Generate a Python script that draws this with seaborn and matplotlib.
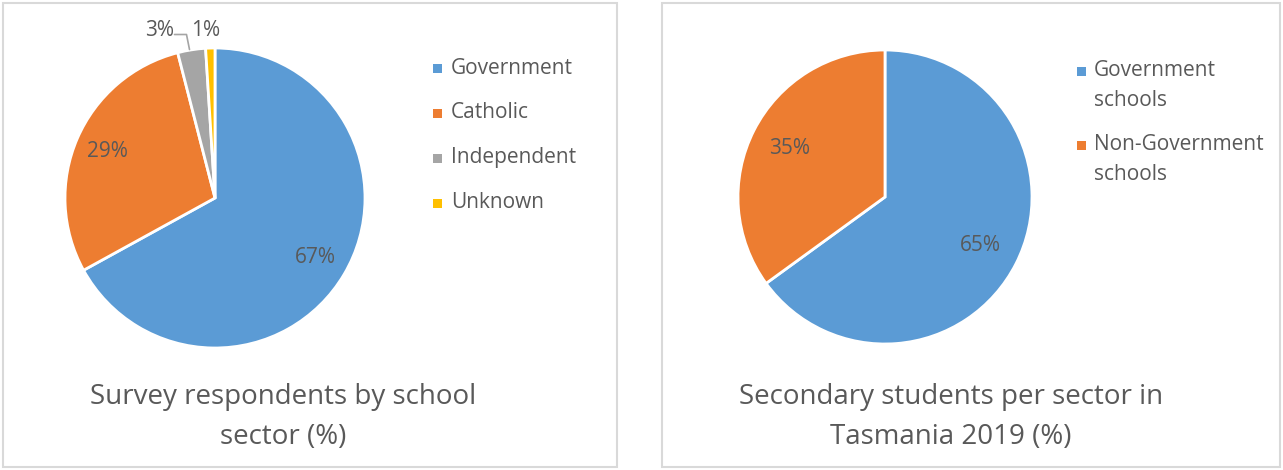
import matplotlib
matplotlib.use("Agg")
import matplotlib.pyplot as plt
from matplotlib.patches import Rectangle
import numpy as np
import seaborn as sns

# Survey respondents by school sector
sector_labels = ["Government", "Catholic", "Independent", "Unknown"]
sector_values = [67, 29, 3, 1]

# Secondary students per sector, Tasmania 2019
students_labels = ["Government\nschools", "Non-Government\nschools"]
students_values = [65, 35]

palette = ["#5B9BD5", "#ED7D31", "#A5A5A5", "#FFC000"]
text_color = "#595959"

sns.set_theme(style="white")
plt.rcParams["font.family"] = ["Open Sans", "DejaVu Sans"]

PCT_SIZE = 15
LEG_SIZE = 15
TITLE_SIZE = 20

W, H = 1283, 470
fig = plt.figure(figsize=(W / 100, H / 100), dpi=100)
fig.patch.set_facecolor("white")


def px_axes(x0, y0, w, h):
    """Axes placed with pixel coordinates measured from the top-left."""
    return fig.add_axes([x0 / W, 1 - (y0 + h) / H, w / W, h / H])


def px(x, y):
    return x / W, 1 - y / H


def slice_mid(values, i):
    total = sum(values)
    start = 90 - 360 * sum(values[:i]) / total
    return np.deg2rad(start - 180 * values[i] / total)


def legend_marker(x, y, color):
    fig.patches.append(Rectangle(px(x, y + 4.5), 8.5 / W, 8.5 / H,
                                 transform=fig.transFigure,
                                 facecolor=color, edgecolor="none"))


# Panel frames
for x0, x1 in [(3, 617), (662, 1280)]:
    fig.patches.append(Rectangle(px(x0, 467), (x1 - x0) / W, 464 / H,
                                 transform=fig.transFigure, fill=False,
                                 edgecolor="#D9D9D9", linewidth=1.5))

wedge_style = dict(edgecolor="white", linewidth=2)

# Left pie
r1 = 150
ax1 = px_axes(215 - r1, 198 - r1, 2 * r1, 2 * r1)
ax1.pie(sector_values, colors=palette, startangle=90,
        counterclock=False, radius=1, wedgeprops=wedge_style)
ax1.set_xlim(-1, 1)
ax1.set_ylim(-1, 1)
ax1.set_aspect("equal")
ax1.axis("off")

for i in (0, 1):
    a = slice_mid(sector_values, i)
    ax1.text(0.78 * np.cos(a), 0.78 * np.sin(a), f"{sector_values[i]}%",
             ha="center", va="center", fontsize=PCT_SIZE, color=text_color)

# Outside labels for the small slices
ax1.text(-0.275, 1.115, f"{sector_values[2]}%", ha="right", va="center",
         fontsize=PCT_SIZE, color=text_color)
ax1.plot([-0.27, -0.19, -0.17], [1.09, 1.09, 0.99], color="#A5A5A5", lw=1.2,
         clip_on=False)
ax1.text(-0.16, 1.115, f"{sector_values[3]}%", ha="left", va="center",
         fontsize=PCT_SIZE, color=text_color)

# Left legend
for i, lab in enumerate(sector_labels):
    y = 68 + 45 * i
    legend_marker(433, y, palette[i])
    fig.text(*px(451, y), lab, ha="left", va="center", fontsize=LEG_SIZE,
             color=text_color)

fig.text(*px(283, 397), "Survey respondents by school", ha="center",
         va="center", fontsize=TITLE_SIZE, color=text_color)
fig.text(*px(283, 437), "sector (%)", ha="center", va="center",
         fontsize=TITLE_SIZE, color=text_color)

# Right pie
r2 = 147
ax2 = px_axes(885 - r2, 197 - r2, 2 * r2, 2 * r2)
ax2.pie(students_values, colors=palette[:2], startangle=90,
        counterclock=False, radius=1, wedgeprops=wedge_style)
ax2.set_xlim(-1, 1)
ax2.set_ylim(-1, 1)
ax2.set_aspect("equal")
ax2.axis("off")
for i in (0, 1):
    a = slice_mid(students_values, i)
    ax2.text(0.73 * np.cos(a), 0.73 * np.sin(a), f"{students_values[i]}%",
             ha="center", va="center", fontsize=PCT_SIZE, color=text_color)

for i, lab in enumerate(students_labels):
    y = 71 + 74 * i
    legend_marker(1077, y, palette[i])
    first, second = lab.split("\n")
    fig.text(*px(1094, y), first, ha="left", va="center", fontsize=LEG_SIZE,
             color=text_color)
    fig.text(*px(1094, y + 29), second, ha="left", va="center",
             fontsize=LEG_SIZE, color=text_color)

fig.text(*px(951, 397), "Secondary students per sector in", ha="center",
         va="center", fontsize=TITLE_SIZE, color=text_color)
fig.text(*px(951, 437), "Tasmania 2019 (%)", ha="center", va="center",
         fontsize=TITLE_SIZE, color=text_color)

fig.savefig("out.png", dpi=100, facecolor="white")
